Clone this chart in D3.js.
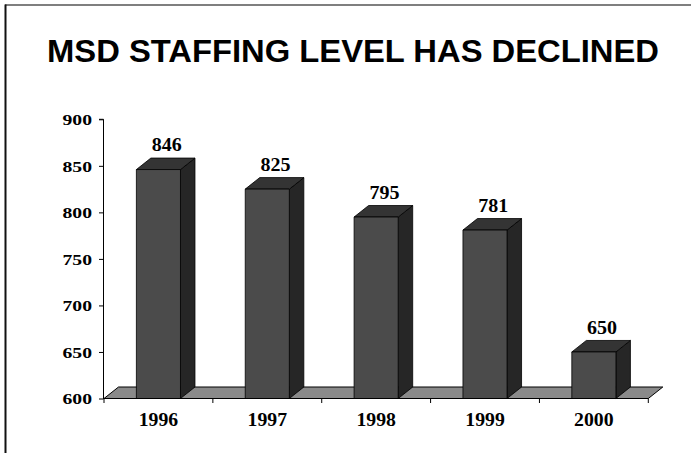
<!DOCTYPE html>
<html><head><meta charset="utf-8">
<script src="https://cdn.jsdelivr.net/npm/d3@7"></script>
<style>body{margin:0;background:#fff}svg{display:block}</style>
</head><body>
<svg id="c" width="691" height="453"></svg>
<script>
const title = "MSD STAFFING LEVEL HAS DECLINED";
const years = ["1996", "1997", "1998", "1999", "2000"];
const staff = [846, 825, 795, 781, 650];
const yTicks = [600, 650, 700, 750, 800, 850, 900];

const svg = d3.select("#c");
svg.append("rect").attr("width", 691).attr("height", 453).attr("fill", "#fff");
// frame (top and left only)
svg.append("line").attr("x1", 5).attr("x2", 691).attr("y1", 5).attr("y2", 5)
  .attr("stroke", "#555").attr("stroke-width", 1.5);
svg.append("line").attr("x1", 5.5).attr("x2", 5.5).attr("y1", 4.5).attr("y2", 453)
  .attr("stroke", "#111").attr("stroke-width", 2);

svg.append("text").attr("x", 47).attr("y", 62.3)
  .attr("font-family", "Liberation Sans, Arial, sans-serif").attr("font-weight", "bold")
  .attr("font-size", 31).attr("textLength", 612).attr("lengthAdjust", "spacingAndGlyphs")
  .attr("fill", "#000").text(title);

const x0 = 104, x1 = 648.3, yb = 398.5, yt = 119.3;
const dx = 14.5, dy = -11.5;
const x = d3.scaleBand().domain(years).range([x0, x1]).paddingInner(0).paddingOuter(0);
const y = d3.scaleLinear().domain([600, 900]).range([yb, yt]);
const bw = x.bandwidth() * 0.405;

// floor
const floorPts = [[x0, yb], [x0 + dx, yb + dy], [x1 + dx, yb + dy], [x1, yb]];
svg.append("polygon").attr("points", floorPts.map(p => p.join(",")).join(" "))
  .attr("fill", "#8a8a8a").attr("stroke", "#000").attr("stroke-width", 1);

// bars
const g = svg.append("g");
years.forEach((yr, i) => {
  const v = staff[i];
  const cx = x(yr) + x.bandwidth() / 2;
  const l = cx - bw / 2, r = cx + bw / 2, top = y(v), bot = y(600);
  const poly = (pts, fill) => g.append("polygon")
    .attr("points", pts.map(p => p.join(",")).join(" "))
    .attr("fill", fill).attr("stroke", "#000").attr("stroke-width", 0.8)
    .attr("stroke-linejoin", "round");
  poly([[r, top], [r + dx, top + dy], [r + dx, bot + dy], [r, bot]], "#262626");
  poly([[l, top], [l + dx, top + dy], [r + dx, top + dy], [r, top]], "#343434");
  poly([[l, top], [r, top], [r, bot], [l, bot]], "#4b4b4b");
  g.append("text").attr("x", cx + dx / 2 + 1).attr("y", top + dy - 6.8)
    .attr("text-anchor", "middle")
    .attr("font-family", "Liberation Serif, Times New Roman, serif").attr("font-weight", "bold")
    .attr("font-size", 18.5).attr("textLength", 30).attr("lengthAdjust", "spacingAndGlyphs")
    .attr("fill", "#000").text(v);
});

// y axis
const ya = svg.append("g").attr("transform", `translate(${x0 - 0.5},0)`)
  .call(d3.axisLeft(y).tickValues(yTicks).tickSize(4.5).tickPadding(7).tickFormat(d3.format("d")));
ya.select(".domain").attr("stroke", "#000").attr("d", `M-4.5,${yt}H0V${yb + 0.5}`);
ya.selectAll(".tick line").attr("stroke", "#000");
ya.selectAll(".tick text")
  .attr("font-family", "Liberation Serif, Times New Roman, serif").attr("font-weight", "bold")
  .attr("font-size", 15.5).attr("fill", "#000").attr("dy", "0.34em")
  .attr("textLength", 29.5).attr("lengthAdjust", "spacingAndGlyphs");

// x axis
const xa = svg.append("g").attr("transform", `translate(0,${yb})`)
  .call(d3.axisBottom(x).tickSize(0).tickPadding(0));
xa.select(".domain").attr("stroke", "#000").attr("d", `M${x0},0H${x1}`);
xa.selectAll(".tick text")
  .attr("font-family", "Liberation Serif, Times New Roman, serif").attr("font-weight", "bold")
  .attr("font-size", 18.5).attr("fill", "#000").attr("y", 27.3).attr("dy", 0)
  .attr("textLength", 39.5).attr("lengthAdjust", "spacingAndGlyphs");
// boundary ticks
const bounds = years.map(d => x(d)).concat([x1]);
xa.selectAll(".btick").data(bounds).join("line").attr("class", "btick")
  .attr("x1", d => d).attr("x2", d => d).attr("y1", 0).attr("y2", 4.5)
  .attr("stroke", "#000");
</script>
</body></html>
